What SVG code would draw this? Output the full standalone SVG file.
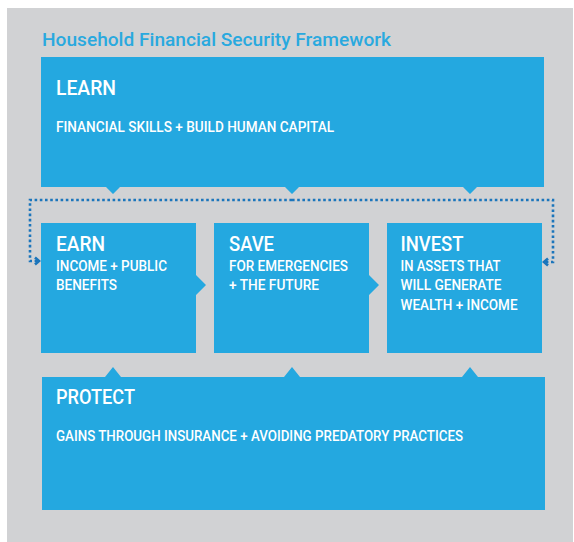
<svg xmlns="http://www.w3.org/2000/svg" width="574" height="542" viewBox="0 0 574 542">
<defs>
<style>
.box{fill:#24a8e0}
.h{font-family:Roboto,"Liberation Sans",sans-serif;font-size:20px;fill:#fff;font-weight:500}
.t{font-family:Roboto,"Liberation Sans",sans-serif;font-size:14px;fill:#fff;font-weight:500}
.title{font-family:Roboto,"Liberation Sans",sans-serif;font-size:19px;fill:#29a9df;font-weight:500}
.dot{fill:none;stroke:#1b75bb;stroke-width:2.6;stroke-dasharray:2.6 2.6}
.head{fill:none;stroke:#1b75bb;stroke-width:2.6}
</style>
<marker id="chev" markerUnits="userSpaceOnUse" markerWidth="10" markerHeight="10" refX="5" refY="5" orient="auto">
<path d="M1,1.5 L5,5 L1,8.5" class="head"/>
</marker>
</defs>
<rect x="7" y="8" width="566" height="534" fill="#d1d2d4"/>
<text class="title" x="42" y="46" textLength="349" lengthAdjust="spacingAndGlyphs">Household Financial Security Framework</text>
<g id="connectors">
<path class="dot" d="M292,200 H30 V261 H39" marker-end="url(#chev)"/>
<path class="dot" d="M292,200 H553 V262 H544" marker-end="url(#chev)"/>
</g>
<g id="learn">
<path class="box" d="M41,57 H544 V187 H477 L470,194 L463,187 H299 L292,194 L285,187 H120 L113,194 L106,187 H41 Z"/>
<text class="h" x="56" y="95" textLength="60" lengthAdjust="spacingAndGlyphs">LEARN</text>
<text class="t" x="56" y="132" textLength="278" lengthAdjust="spacingAndGlyphs">FINANCIAL SKILLS + BUILD HUMAN CAPITAL</text>
</g>
<g id="earn">
<path class="box" d="M41,223 H196 V275 L206,285 L196,295 V353 H41 Z"/>
<text class="h" x="56" y="251" textLength="49" lengthAdjust="spacingAndGlyphs">EARN</text>
<text class="t" x="56" y="271" textLength="111" lengthAdjust="spacingAndGlyphs">INCOME + PUBLIC</text>
<text class="t" x="56" y="290" textLength="61" lengthAdjust="spacingAndGlyphs">BENEFITS</text>
</g>
<g id="save">
<path class="box" d="M214,223 H369 V275 L379,285 L369,295 V353 H214 Z"/>
<text class="h" x="229" y="251" textLength="45" lengthAdjust="spacingAndGlyphs">SAVE</text>
<text class="t" x="229" y="271" textLength="119" lengthAdjust="spacingAndGlyphs">FOR EMERGENCIES</text>
<text class="t" x="229" y="290" textLength="90" lengthAdjust="spacingAndGlyphs">+ THE FUTURE</text>
</g>
<g id="invest">
<rect class="box" x="387" y="223" width="155" height="130"/>
<text class="h" x="400.5" y="251" textLength="63" lengthAdjust="spacingAndGlyphs">INVEST</text>
<text class="t" x="400.5" y="271" textLength="100" lengthAdjust="spacingAndGlyphs">IN ASSETS THAT</text>
<text class="t" x="400.5" y="290" textLength="101" lengthAdjust="spacingAndGlyphs">WILL GENERATE</text>
<text class="t" x="400.5" y="310" textLength="117" lengthAdjust="spacingAndGlyphs">WEALTH + INCOME</text>
</g>
<g id="protect">
<path class="box" d="M42,377 H105 L113,367 L121,377 H284 L292,367 L300,377 H462 L470,367 L478,377 H545 V510 H42 Z"/>
<text class="h" x="56" y="404" textLength="79" lengthAdjust="spacingAndGlyphs">PROTECT</text>
<text class="t" x="56" y="441" textLength="407" lengthAdjust="spacingAndGlyphs">GAINS THROUGH INSURANCE + AVOIDING PREDATORY PRACTICES</text>
</g>
</svg>
